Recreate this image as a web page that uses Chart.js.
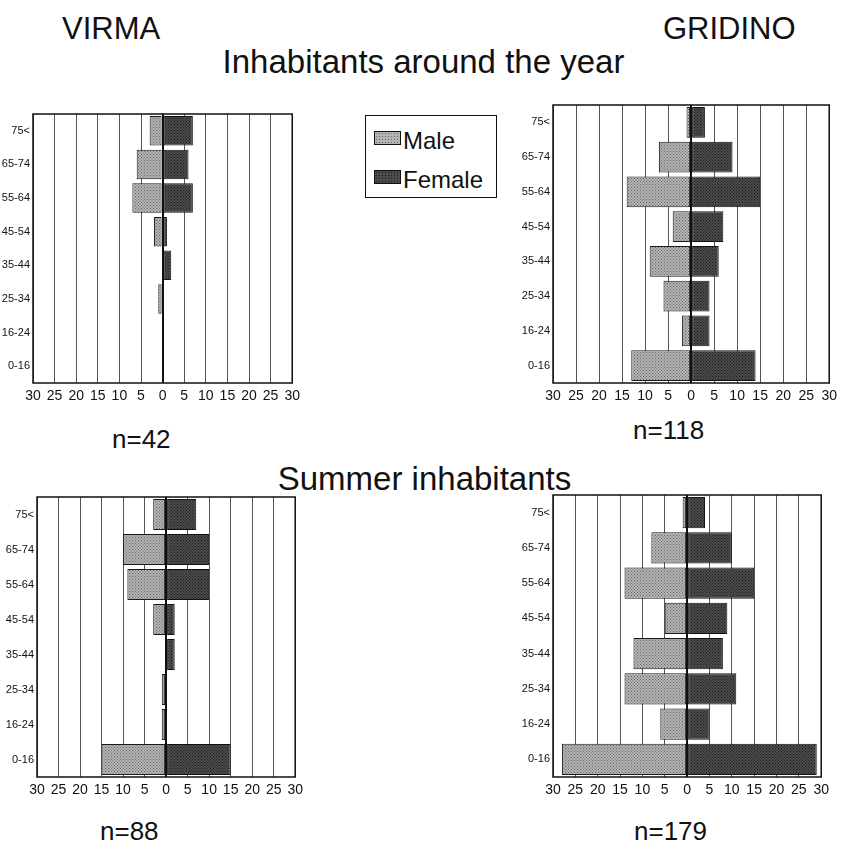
<!DOCTYPE html>
<html>
<head>
<meta charset="utf-8">
<script src="https://cdn.jsdelivr.net/npm/chart.js@4.4.1/dist/chart.umd.min.js"></script>
<style>
    html, body { margin: 0; padding: 0; background: #fff; }
    body { width: 845px; height: 843px; position: relative; overflow: hidden;
           font-family: "Liberation Sans", Arial, sans-serif; color: #111; }
    .txt { position: absolute; line-height: 1; white-space: nowrap; }
    .panel { position: absolute; }
    #legend { position: absolute; left: 365px; top: 115px; width: 132px; height: 83px;
              border: 1.5px solid #111; box-sizing: border-box; }
    .sw { position: absolute; left: 8px; width: 27px; height: 14px; border: 1px solid #111;
          box-sizing: border-box; background-size: 3px 3px; }
    .lg { position: absolute; left: 37px; font-size: 24px; line-height: 1; }
</style>
</head>
<body>

<div class="txt" style="left:62px; top:13px; font-size:31px;">VIRMA</div>
<div class="txt" style="left:663px; top:13px; font-size:31px;">GRIDINO</div>
<div class="txt" style="left:0; width:847px; text-align:center; top:45px; font-size:33px;">Inhabitants around the year</div>
<div class="txt" style="left:0; width:849px; text-align:center; top:462px; font-size:33px;">Summer inhabitants</div>
<div class="txt" style="left:112px; top:426px; font-size:26px;">n=42</div>
<div class="txt" style="left:633px; top:417px; font-size:26px;">n=118</div>
<div class="txt" style="left:100px; top:818px; font-size:26px;">n=88</div>
<div class="txt" style="left:634px; top:818px; font-size:26px;">n=179</div>

<div id="legend">
    <div class="sw" style="top:15px; background-color:#b4b4b4; background-image:radial-gradient(#666 0.7px, transparent 0.9px);"></div>
    <div class="lg" style="top:13px;">Male</div>
    <div class="sw" style="top:54px; background-color:#4c4c4c; background-image:radial-gradient(#1a1a1a 0.7px, transparent 0.9px);"></div>
    <div class="lg" style="top:52px;">Female</div>
</div>

<div class="panel" style="left:0px; top:103px; width:305px; height:304px;"><canvas id="virma-year"></canvas></div>
<div class="panel" style="left:520px; top:94px; width:322px; height:313px;"><canvas id="gridino-year"></canvas></div>
<div class="panel" style="left:0px; top:486px; width:308px; height:315px;"><canvas id="virma-summer"></canvas></div>
<div class="panel" style="left:520px; top:484px; width:314px; height:317px;"><canvas id="gridino-summer"></canvas></div>

<script>
// grupos de edad, de arriba a abajo
const ageGroups = ['75<', '65-74', '55-64', '45-54', '35-44', '25-34', '16-24', '0-16'];

// VIRMA - habitantes todo el año (n=42)
const virmaYearMale = [3, 6, 7, 2, 0, 1, 0, 0];
const virmaYearFemale = [7, 6, 7, 1, 2, 0, 0, 0];

// GRIDINO - habitantes todo el año (n=118)
const gridinoYearMale = [1, 7, 14, 4, 9, 6, 2, 13];
const gridinoYearFemale = [3, 9, 15, 7, 6, 4, 4, 14];

// VIRMA - habitantes de verano (n=88)
const virmaSummerMale = [3, 10, 9, 3, 0, 1, 1, 15];
const virmaSummerFemale = [7, 10, 10, 2, 2, 0, 0, 15];

// GRIDINO - habitantes de verano (n=179)
const gridinoSummerMale = [1, 8, 14, 5, 12, 14, 6, 28];
const gridinoSummerFemale = [4, 10, 15, 9, 8, 11, 5, 29];

// eje x: -30 .. 30 cada 5
const axisMax = 30;
const axisStep = 5;

const fontFamily = '"Liberation Sans", Arial, sans-serif';

// Patrón punteado para las barras
function makePattern(base, dot) {
    const c = document.createElement('canvas');
    c.width = 3; c.height = 3;
    const g = c.getContext('2d');
    g.fillStyle = base;
    g.fillRect(0, 0, 3, 3);
    g.fillStyle = dot;
    g.fillRect(0, 0, 1, 1);
    g.fillRect(1.5, 1.5, 1, 1);
    return g.createPattern(c, 'repeat');
}
const malePattern = makePattern('#b4b4b4', '#666');
const femalePattern = makePattern('#4c4c4c', '#1a1a1a');

// marco alrededor del área del gráfico
const framePlugin = {
    id: 'frame',
    afterDraw(chart) {
        const a = chart.chartArea;
        const ctx = chart.ctx;
        ctx.save();
        ctx.strokeStyle = '#111';
        ctx.lineWidth = 1.5;
        ctx.strokeRect(a.left, a.top, a.right - a.left, a.bottom - a.top);
        ctx.restore();
    }
};

function crearPiramide(id, male, female, yWidth) {
    const ctx = document.getElementById(id).getContext('2d');
    return new Chart(ctx, {
        type: 'bar',
        data: {
            labels: ageGroups,
            datasets: [{
                label: 'Male',
                data: male.map(v => -v),
                backgroundColor: malePattern,
                borderColor: '#1a1a1a',
                borderWidth: 1,
                borderSkipped: false
            }, {
                label: 'Female',
                data: female,
                backgroundColor: femalePattern,
                borderColor: '#111',
                borderWidth: 1,
                borderSkipped: false
            }]
        },
        plugins: [framePlugin],
        options: {
            indexAxis: 'y',
            responsive: true,
            maintainAspectRatio: false,
            animation: false,
            layout: { padding: { top: 11, right: 10, left: 0, bottom: 0 } },
            barPercentage: 0.88,
            categoryPercentage: 1,
            scales: {
                x: {
                    stacked: true,
                    min: -axisMax,
                    max: axisMax,
                    ticks: {
                        stepSize: axisStep,
                        autoSkip: false,
                        maxRotation: 0,
                        color: '#111',
                        font: { family: fontFamily, size: 14 },
                        padding: 5,
                        callback: v => Math.abs(v)
                    },
                    grid: {
                        drawTicks: false,
                        color: ctx => ctx.tick && ctx.tick.value === 0 ? '#111' : '#555',
                        lineWidth: ctx => ctx.tick && ctx.tick.value === 0 ? 2 : 1
                    },
                    border: { display: false },
                    afterFit: s => { s.height = 24; }
                },
                y: {
                    stacked: true,
                    ticks: { color: '#111', font: { family: fontFamily, size: 11 }, padding: 3 },
                    grid: { display: false, drawTicks: false },
                    border: { display: false },
                    afterFit: s => { s.width = yWidth; }
                }
            },
            plugins: {
                legend: { display: false },
                tooltip: { enabled: false }
            }
        }
    });
}

crearPiramide('virma-year', virmaYearMale, virmaYearFemale, 33);
crearPiramide('gridino-year', gridinoYearMale, gridinoYearFemale, 33);
crearPiramide('virma-summer', virmaSummerMale, virmaSummerFemale, 37);
crearPiramide('gridino-summer', gridinoSummerMale, gridinoSummerFemale, 33);
</script>
</body>
</html>
